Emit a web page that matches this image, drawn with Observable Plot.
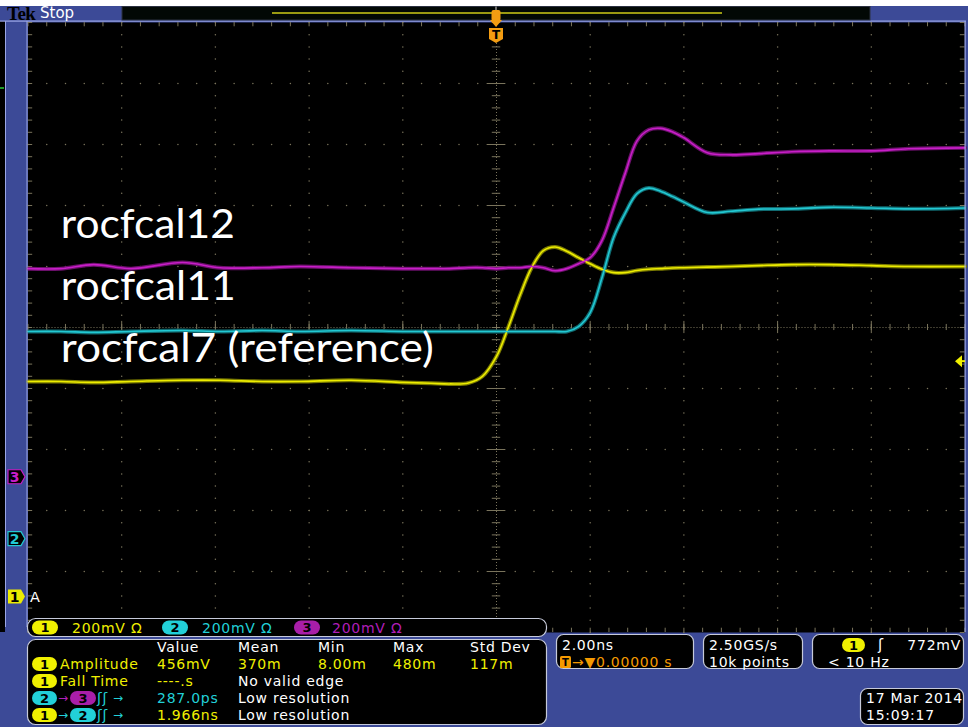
<!DOCTYPE html>
<html><head><meta charset="utf-8">
<script src="https://cdn.jsdelivr.net/npm/d3@7"></script>
<script src="https://cdn.jsdelivr.net/npm/@observablehq/plot@0.6"></script>
<style>
html,body{margin:0;padding:0;}
body{width:968px;height:727px;background:#3c4a97;position:relative;overflow:hidden;}
#chart{position:absolute;left:0;top:0;}
</style></head><body>
<div id="chart"></div>
<script>
// ---- data ----
const timeNs = [-10,-9.3,-8.6,-7.8,-6.7,-5.9,-5,-4.2,-3.1,-2,-1.4,-1,-0.6,-0.3,0,0.25,0.5,0.75,1,1.25,1.5,1.75,2,2.25,2.5,2.75,3,3.25,3.5,3.75,4,4.5,5,5.6,6.3,7.1,8,8.8,10];
const ch1mV = [707,707,704,707,711,711,707,707,711,704,701,699,702,724,789,884,989,1080,1136,1148,1134,1113,1093,1075,1064,1064,1071,1075,1077,1079,1080,1082,1084,1087,1090,1090,1087,1084,1084];
const ch2mV = [681,681,678,681,684,681,684,681,684,681,681,681,681,681,681,681,681,681,681,681,681,697,743,856,989,1070,1133,1151,1141,1124,1105,1071,1075,1082,1083,1088,1086,1083,1086];
const ch3mV = [684,684,697,684,704,687,687,691,687,684,684,684,687,687,684,687,687,691,687,677,684,700,720,776,884,998,1103,1139,1144,1133,1113,1064,1057,1061,1067,1070,1070,1077,1080];
const channelIds = ["1","2","3"];
const channelColors = ["#ecec00","#22c8d2","#c81ec8"];
const channelGhost = ["#7a7a00","#106a70","#6a106a"];
const channelGroundDiv = [-4.42,-3.47,-2.455];
const mVPerDiv = 200;
const triggerLevelmV = 772;
const labelTexts = ["rocfcal12","rocfcal11","rocfcal7 (reference)"];
const labelTimes = [-9.3,-9.3,-9.3];
const labelDivs = [1.67,0.655,-0.36];
const labelWidths = [174,175,373];

// ---- build ----
const W = 968, H = 727;
const series = [ch1mV, ch2mV, ch3mV];
const traces = series.map((arr, c) => timeNs.map((t, i) => ({t, v: channelGroundDiv[c] + arr[i] / mVPerDiv, c})));
const labels = labelTexts.map((s, i) => ({s, t: labelTimes[i], v: labelDivs[i]}));

const r2 = v => Math.round(v * 100) / 100;
const minorY = d3.range(-50, 51, 2).map(v => r2(v / 10));
const minorX = d3.range(-50, 51, 2).map(v => r2(v / 5));
const majorX = [-8,-6,-4,-2,2,4,6,8];
const majorY = [-4,-3,-2,-1,1,2,3,4];
const gridDots = [];
for (const x of majorX) for (const y of minorY) gridDots.push({x, y});
for (const y of majorY) for (const x of minorX) gridDots.push({x, y});
const gridCol = "#7a745c";

const marks = [
  Plot.frame({fill: "#000", stroke: "none"}),
  Plot.dot(gridDots, {x: "x", y: "y", r: 0.75, fill: gridCol, stroke: "none"}),
  Plot.ruleX([0], {stroke: gridCol, strokeDasharray: "1,2", strokeWidth: 1}),
  Plot.ruleY([0], {stroke: gridCol, strokeDasharray: "1,2", strokeWidth: 1}),
  Plot.ruleY(minorY, {y: d => d, x1: -0.09, x2: 0.09, stroke: gridCol}),
  Plot.ruleY(majorY, {y: d => d, x1: -0.2, x2: 0.2, stroke: gridCol}),
  Plot.ruleX(minorX, {x: d => d, y1: -0.05, y2: 0.05, stroke: gridCol}),
  Plot.ruleX(majorX, {x: d => d, y1: -0.1, y2: 0.1, stroke: gridCol}),
  Plot.ruleY(minorY, {y: d => d, x1: -10, x2: -9.9, stroke: gridCol}),
  Plot.ruleY(minorY, {y: d => d, x1: 9.9, x2: 10, stroke: gridCol}),
  Plot.ruleX(minorX, {x: d => d, y1: 5, y2: 4.93, stroke: gridCol}),
  Plot.ruleX(minorX, {x: d => d, y1: -5, y2: -4.93, stroke: gridCol}),
  ...traces.map((d, c) => Plot.line(d, {x: "t", y: "v", stroke: channelGhost[c], strokeWidth: 4, curve: "catmull-rom"})),
  ...traces.map((d, c) => Plot.line(d, {x: "t", y: "v", stroke: channelColors[c], strokeWidth: 1.6, curve: "catmull-rom"})),
  Plot.text(labels, {x: "t", y: "v", text: "s", textAnchor: "start", fill: "#fff", fontSize: 40, fontFamily: "Lato", lineAnchor: "middle"})
];

const chart = Plot.plot({
  width: W, height: H,
  marginLeft: 27.5, marginRight: 3.5, marginTop: 22, marginBottom: 95,
  x: {domain: [-10, 10], axis: null},
  y: {domain: [-5, 5], axis: null},
  style: {background: "transparent", overflow: "visible"},
  marks
});
document.getElementById("chart").append(chart);

const svg = d3.select(chart);
svg.selectAll("text").each(function() {
  const i = labelTexts.indexOf(this.textContent);
  if (i >= 0) { this.setAttribute("textLength", labelWidths[i]); this.setAttribute("lengthAdjust", "spacingAndGlyphs"); }
});

const xs = chart.scale("x"), ys = chart.scale("y");
const FS = 14;
const g = svg.append("g").attr("font-family", "DejaVu Sans, sans-serif").attr("font-size", FS);
function rect(x, y, w, h, fill, stroke, rx = 0, sw = 1) {
  return g.append("rect").attr("x", x).attr("y", y).attr("width", w).attr("height", h).attr("rx", rx)
    .attr("fill", fill).attr("stroke", stroke || "none").attr("stroke-width", sw);
}
function txt(x, y, s, fill, size = FS, anchor = "start", weight = "normal", family = null) {
  const t = g.append("text").attr("x", x).attr("y", y).attr("dy", "0.36em").attr("fill", fill)
    .attr("font-size", size).attr("text-anchor", anchor).attr("font-weight", weight).text(s);
  if (family) t.attr("font-family", family);
  if (size === FS) t.attr("letter-spacing", 0.75);
  return t;
}
function pill(x, cy, w, fill, label) {
  rect(x, cy - 7, w, 14, fill, null, 7);
  txt(x + w / 2, cy, label, "#000", 13, "middle", "bold");
}
function poly(pts, fill, stroke) {
  g.append("polygon").attr("points", pts.map(p => p.join(",")).join(" ")).attr("fill", fill).attr("stroke", stroke || "none").attr("stroke-width", 1.2);
}

// frame chrome
rect(0, 0, W, 6, "#fff");
rect(0, 21, 5, 611, "#000");
rect(0, 87, 4, 2, "#1f9a2a");
rect(0, 20.5, 966, 1.2, "#9aa6e6");
rect(5, 21, 1, 606, "#9aa6e6");
rect(26.5, 21, 1, 606, "#9aa6e6");
rect(964.5, 21, 1.2, 611, "#9aa6e6");
// top bar
txt(7, 13.5, "Tek", "#000", 19, "start", "bold", "Liberation Serif").attr("letter-spacing", -0.5);
txt(40, 13, "Stop", "#fff", 15);
rect(122, 6.5, 748, 13.5, "#020805", "#2a3040");
rect(272, 12, 450, 2, "#9a9a12");
// trigger position marker
const tx = xs.apply(0);
rect(tx - 0.7, 6.5, 1.4, 5, "#999");
rect(tx - 4.5, 10, 9, 11, "#f39c12", null, 2);
poly([[tx - 6, 20], [tx + 6, 20], [tx, 27]], "#f39c12");
poly([[tx - 7, 28], [tx + 7, 28], [tx + 7, 39], [tx, 43], [tx - 7, 39]], "#f39c12");
txt(tx, 35, "T", "#000", 12, "middle", "bold");
// trigger level arrow (right)
const ty = ys.apply(channelGroundDiv[0] + triggerLevelmV / mVPerDiv);
poly([[955, ty], [962, ty - 6], [962, ty + 6]], "#f0f000");
rect(961, ty - 1, 4, 2, "#f0f000");
// channel ground markers (left)
channelIds.forEach((id, c) => {
  const y = ys.apply(channelGroundDiv[c]);
  const pts = [[8, y - 7], [21, y - 7], [25, y], [21, y + 7], [8, y + 7]];
  if (c === 0) { poly(pts, channelColors[0]); txt(15, y, id, "#000", 14, "middle", "bold"); }
  else { poly(pts, "#000", channelColors[c]); txt(15, y, id, channelColors[c], 14, "middle", "bold"); }
});
txt(30, ys.apply(channelGroundDiv[0]), "A", "#fff", 14.5);

// bottom panels
const Y = "#f0f000", C = "#22d0d8", M = "#b01eb8", Wt = "#fff", O = "#f59a00";
const boxStroke = "#c6cada";
rect(27.5, 618.5, 519, 18, "#000", boxStroke, 8, 1.2);
pill(32, 627.5, 26, Y, "1"); txt(72, 627.5, "200mV Ω", Y);
pill(162, 627.5, 26, C, "2"); txt(202, 627.5, "200mV Ω", C);
pill(294, 627.5, 26, "#a81ea8", "3"); txt(332, 627.5, "200mV Ω", M);

rect(27.5, 639.5, 519, 85, "#000", boxStroke, 8, 1.2);
const rowY = [647, 664, 681, 698, 715];
[["Value",157],["Mean",238],["Min",318],["Max",393],["Std Dev",470]].forEach(([s, x]) => txt(x, rowY[0], s, Wt));
pill(32, rowY[1], 25, Y, "1"); txt(60, rowY[1], "Amplitude", Y);
[["456mV",157],["370m",238],["8.00m",318],["480m",393],["117m",470]].forEach(([s, x]) => txt(x, rowY[1], s, Y));
pill(32, rowY[2], 25, Y, "1"); txt(60, rowY[2], "Fall Time", Y);
txt(157, rowY[2], "----.s", Y); txt(238, rowY[2], "No valid edge", Wt);
pill(32, rowY[3], 25, C, "2"); txt(58, rowY[3], "→", M, 12); pill(70, rowY[3], 26, "#a81ea8", "3");
txt(97, rowY[3], "ʃʃ", C, 14); txt(113, rowY[3], "→", C, 12);
txt(157, rowY[3], "287.0ps", C); txt(238, rowY[3], "Low resolution", Wt);
pill(32, rowY[4], 25, Y, "1"); txt(58, rowY[4], "→", C, 12); pill(70, rowY[4], 26, C, "2");
txt(97, rowY[4], "ʃʃ", C, 14); txt(113, rowY[4], "→", C, 12);
txt(157, rowY[4], "1.966ns", Y); txt(238, rowY[4], "Low resolution", Wt);

rect(556.5, 634.5, 137, 34, "#000", boxStroke, 7, 1.2);
txt(562, 645, "2.00ns", Wt);
rect(560, 656, 11, 12, O, null, 1.5); txt(565.5, 662, "T", "#000", 10, "middle", "bold");
txt(572, 662, "→▼0.00000 s", O);
rect(703.5, 634.5, 99, 34, "#000", boxStroke, 7, 1.2);
txt(709, 645, "2.50GS/s", Wt); txt(709, 662, "10k points", Wt);
rect(812.5, 634.5, 151, 34, "#000", boxStroke, 7, 1.2);
pill(842, 645, 23, Y, "1"); txt(878, 645, "ʃ", Wt, 15); txt(961, 645, "772mV", Wt, FS, "end");
txt(828, 662, "< 10 Hz", Wt);
rect(860.5, 688.5, 103, 36, "#000", boxStroke, 7, 1.2);
txt(866, 698, "17 Mar 2014", Wt); txt(866, 715, "15:09:17", Wt);
</script>
</body></html>
